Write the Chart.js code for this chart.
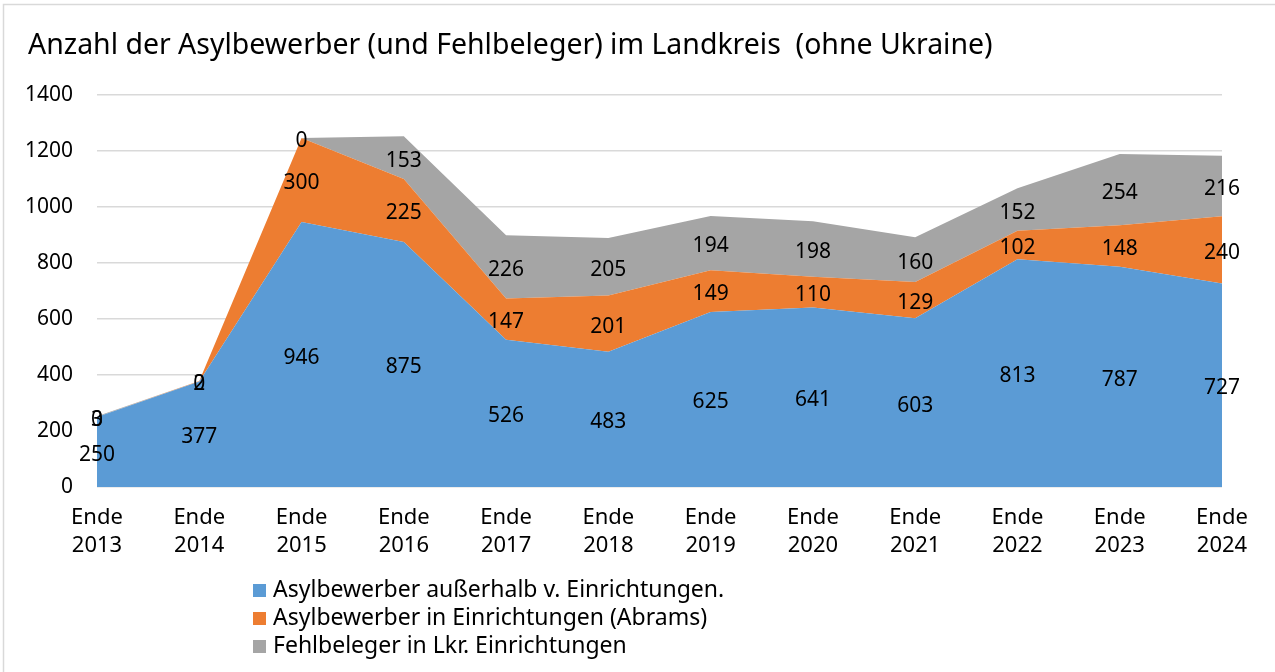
<!DOCTYPE html>
<html>
<head>
<meta charset="utf-8">
<script src="https://cdn.jsdelivr.net/npm/chart.js@4"></script>
<style>
  body { margin: 0; background: #fff; }
  #wrap { position: relative; width: 1275px; height: 672px; }
</style>
</head>
<body>
<div id="wrap"><canvas id="chart" width="1275" height="672"></canvas></div>
<script>
// chart data
const titleText = "Anzahl der Asylbewerber (und Fehlbeleger) im Landkreis  (ohne Ukraine)";
const years = ["2013", "2014", "2015", "2016", "2017", "2018", "2019", "2020", "2021", "2022", "2023", "2024"];
const seriesNames = [
  "Asylbewerber außerhalb v. Einrichtungen.",
  "Asylbewerber in Einrichtungen (Abrams)",
  "Fehlbeleger in Lkr. Einrichtungen"
];
const outside = [250, 377, 946, 875, 526, 483, 625, 641, 603, 813, 787, 727];
const inside = [0, 2, 300, 225, 147, 201, 149, 110, 129, 102, 148, 240];
const misplaced = [3, 0, 0, 153, 226, 205, 194, 198, 160, 152, 254, 216];
const colors = ["#5B9BD5", "#ED7D31", "#A5A5A5"];

const FONT = "'Noto Sans', 'Open Sans', sans-serif";

// title, border, legend and value labels
const decoPlugin = {
  id: "deco",
  beforeDraw(chart) {
    const ctx = chart.ctx;
    ctx.save();
    ctx.strokeStyle = "#d9d9d9";
    ctx.lineWidth = 1.5;
    ctx.beginPath();
    ctx.moveTo(3.5, 700);
    ctx.lineTo(3.5, 4.5);
    ctx.lineTo(1300, 4.5);
    ctx.stroke();

    // title
    ctx.fillStyle = "#000";
    let size = 26;
    ctx.font = size + "px " + FONT;
    const w = ctx.measureText(titleText).width;
    size = size * 965 / w;
    ctx.font = size + "px " + FONT;
    ctx.textBaseline = "middle";
    ctx.textAlign = "left";
    ctx.fillText(titleText, 28, 46);
    ctx.restore();
  },
  afterDatasetsDraw(chart) {
    const ctx = chart.ctx;
    const yScale = chart.scales.y;
    ctx.save();
    ctx.font = "21px " + FONT;
    ctx.fillStyle = "#000";
    ctx.textAlign = "center";
    ctx.textBaseline = "middle";
    chart.data.datasets.forEach((ds, i) => {
      const meta = chart.getDatasetMeta(i);
      meta.data.forEach((pt, j) => {
        let base = yScale.getPixelForValue(0);
        if (i > 0) base = chart.getDatasetMeta(i - 1).data[j].y;
        const y = (pt.y + base) / 2 + 3;
        ctx.fillText(String(ds.data[j]), pt.x, y);
      });
    });
    ctx.restore();
  },
  afterDraw(chart) {
    const ctx = chart.ctx;
    ctx.save();
    ctx.font = "23px " + FONT;
    ctx.textBaseline = "middle";
    ctx.textAlign = "left";
    const rows = [590, 618, 646];
    chart.data.datasets.forEach((ds, i) => {
      ctx.fillStyle = ds.backgroundColor;
      ctx.fillRect(253, rows[i] - 6, 13, 13);
      ctx.fillStyle = "#000";
      ctx.fillText(ds.label, 273, rows[i]);
    });
    ctx.restore();
  }
};

const ctx = document.getElementById("chart").getContext("2d");
const myChart = new Chart(ctx, {
  type: "line",
  data: {
    labels: years.map(y => ["Ende", y]),
    datasets: [outside, inside, misplaced].map((vals, i) => ({
      label: seriesNames[i],
      data: vals,
      backgroundColor: colors[i],
      borderColor: colors[i],
      borderWidth: 0,
      pointRadius: 0,
      tension: 0,
      fill: i === 0 ? "origin" : "-1"
    }))
  },
  options: {
    responsive: false,
    animation: false,
    events: [],
    layout: { padding: { left: 0, top: 95, right: 53, bottom: 0 } },
    plugins: {
      legend: { display: false },
      title: { display: false },
      tooltip: { enabled: false }
    },
    scales: {
      x: {
        offset: false,
        grid: { display: false, drawTicks: false },
        border: { display: false },
        ticks: {
          color: "#000",
          font: { family: FONT, size: 22, lineHeight: 1.3 },
          padding: 16,
          maxRotation: 0,
          autoSkip: false
        },
        afterFit(scale) { scale.height = 672 - 487; }
      },
      y: {
        stacked: true,
        min: 0,
        max: 1400,
        grid: { color: "#d9d9d9", lineWidth: 1.5, drawTicks: false },
        border: { display: false },
        ticks: {
          stepSize: 200,
          color: "#000",
          font: { family: FONT, size: 21 },
          padding: 24,
          callback: v => String(v)
        },
        afterFit(scale) { scale.width = 97; }
      }
    }
  },
  plugins: [decoPlugin]
});
</script>
</body>
</html>
